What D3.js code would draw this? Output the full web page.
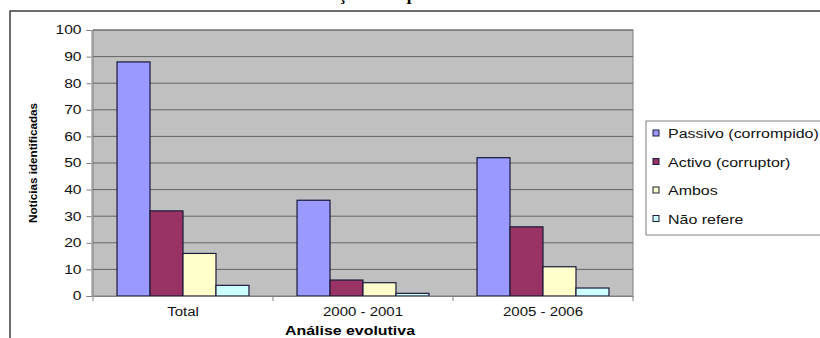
<!DOCTYPE html>
<html>
<head>
<meta charset="utf-8">
<script src="https://cdn.jsdelivr.net/npm/d3@7"></script>
<style>
  html, body { margin: 0; padding: 0; background: #fff; overflow: hidden; }
  svg { display: block; }
</style>
</head>
<body>
<svg id="chart" width="820" height="338"></svg>
<script>
// Categories, series and values
const categories = ["Total", "2000 - 2001", "2005 - 2006"];
const seriesNames = ["Passivo (corrompido)", "Activo (corruptor)", "Ambos", "Não refere"];
const passivo = [88, 36, 52];
const activo = [32, 6, 26];
const ambos = [16, 5, 11];
const naoRefere = [4, 1, 3];
const yTicks = [0, 10, 20, 30, 40, 50, 60, 70, 80, 90, 100];

const seriesValues = [passivo, activo, ambos, naoRefere];
const colors = ["#9999ff", "#993366", "#ffffcc", "#ccffff"];

const svg = d3.select("#chart");
const font = "Arial, 'Liberation Sans', sans-serif";

// Widen text glyphs horizontally by a factor (the chart uses a wide face)
function widen(sel, factor) {
  sel.each(function () {
    const w = this.getComputedTextLength();
    d3.select(this).attr("textLength", w * factor).attr("lengthAdjust", "spacingAndGlyphs");
  });
}

// Outer chart frame (runs past the right and bottom edges)
svg.append("rect")
  .attr("x", 10).attr("y", 11)
  .attr("width", 900).attr("height", 400)
  .attr("fill", "none").attr("stroke", "#3c3c3c").attr("stroke-width", 1.5);

// Title sits above the frame, mostly out of view
svg.append("text")
  .attr("x", 342).attr("y", -0.5)
  .attr("text-anchor", "middle")
  .attr("font-family", "'Liberation Serif', 'DejaVu Serif', serif")
  .attr("font-weight", "bold")
  .attr("font-size", 17)
  .text("Caracterização dos tipos");

const plot = { left: 93, top: 30, right: 633, bottom: 296 };

const x0 = d3.scaleBand().domain(categories)
  .range([plot.left, plot.right]).paddingInner(0).paddingOuter(0);
const groupWidth = x0.bandwidth() * 0.733;
const x1 = d3.scaleBand().domain(d3.range(seriesNames.length))
  .range([0, groupWidth]).padding(0);
const y = d3.scaleLinear().domain([0, 100]).range([plot.bottom, plot.top]);

// Plot background
svg.append("rect")
  .attr("x", plot.left).attr("y", plot.top)
  .attr("width", plot.right - plot.left).attr("height", plot.bottom - plot.top)
  .attr("fill", "#c0c0c0").attr("stroke", "#808080").attr("stroke-width", 1);

// Horizontal gridlines
svg.append("g").selectAll("line")
  .data(yTicks.filter(t => t > 0))
  .join("line")
  .attr("x1", plot.left).attr("x2", plot.right)
  .attr("y1", d => y(d)).attr("y2", d => y(d))
  .attr("stroke", "#646464").attr("stroke-width", 1);

// Bars
const groups = svg.append("g").selectAll("g")
  .data(categories)
  .join("g")
  .attr("transform", c => `translate(${x0(c) + (x0.bandwidth() - groupWidth) / 2},0)`);

groups.selectAll("rect")
  .data((c, ci) => seriesValues.map((vals, si) => ({ si, v: vals[ci] })))
  .join("rect")
  .attr("x", d => x1(d.si))
  .attr("width", x1.bandwidth())
  .attr("y", d => y(d.v))
  .attr("height", d => y(0) - y(d.v))
  .attr("fill", d => colors[d.si])
  .attr("stroke", "#1a1a3a").attr("stroke-width", 1.2);

// Y axis
const yAxis = svg.append("g")
  .attr("transform", `translate(${plot.left - 1.5},0)`)
  .call(d3.axisLeft(y).tickValues(yTicks).tickSize(5).tickPadding(5));
yAxis.select(".domain").attr("stroke", "#808080");
yAxis.selectAll(".tick line").attr("stroke", "#808080");
yAxis.selectAll("text")
  .attr("font-family", font).attr("font-size", 12).attr("fill", "#111")
  .call(widen, 1.3);

// X axis
const xAxis = svg.append("g")
  .attr("transform", `translate(0,${plot.bottom})`)
  .call(d3.axisBottom(x0).tickSize(0).tickPadding(11));
xAxis.select(".domain").attr("stroke", "#808080");
xAxis.selectAll("text")
  .attr("font-family", font).attr("font-size", 12).attr("fill", "#111")
  .call(widen, 1.25);

// Category separator ticks
svg.append("g").selectAll("line")
  .data(categories.map(c => x0(c)).concat([plot.right]))
  .join("line")
  .attr("x1", d => d).attr("x2", d => d)
  .attr("y1", plot.bottom).attr("y2", plot.bottom + 5)
  .attr("stroke", "#808080");

// Axis titles
svg.append("text")
  .attr("transform", "translate(37,163) rotate(-90)")
  .attr("text-anchor", "middle")
  .attr("font-family", font).attr("font-weight", "bold").attr("font-size", 11)
  .attr("textLength", 120).attr("lengthAdjust", "spacingAndGlyphs")
  .text("Notícias identificadas");

svg.append("text")
  .attr("x", 350).attr("y", 335)
  .attr("text-anchor", "middle")
  .attr("font-family", font).attr("font-weight", "bold").attr("font-size", 12)
  .attr("textLength", 130).attr("lengthAdjust", "spacingAndGlyphs")
  .text("Análise evolutiva");

// Legend
const legend = svg.append("g");
legend.append("rect")
  .attr("x", 646).attr("y", 121)
  .attr("width", 300).attr("height", 114)
  .attr("fill", "#fff").attr("stroke", "#808080").attr("stroke-width", 1);

const items = legend.selectAll("g.item")
  .data(seriesNames)
  .join("g").attr("class", "item")
  .attr("transform", (d, i) => `translate(653,${133 + i * 28.5})`);
items.append("rect")
  .attr("x", 0).attr("y", -3)
  .attr("width", 6).attr("height", 6)
  .attr("fill", (d, i) => colors[i])
  .attr("stroke", "#1a1a3a").attr("stroke-width", 1);
items.append("text")
  .attr("x", 15).attr("y", 5)
  .attr("font-family", font).attr("font-size", 12).attr("fill", "#111")
  .text(d => d)
  .call(widen, 1.33);
</script>
</body>
</html>
